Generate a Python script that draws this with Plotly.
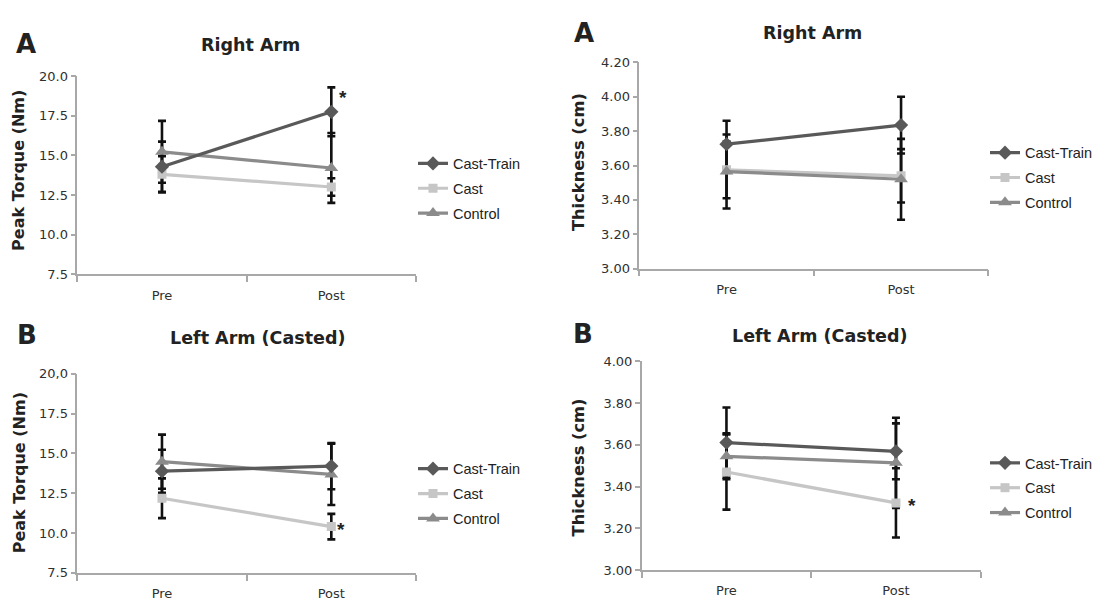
import plotly.graph_objects as go

# ---------------- data ----------------
phases = ["Pre", "Post"]
series_names = ["Cast-Train", "Cast", "Control"]

# Panel A-left: Right Arm peak torque (Nm)
torque_right_ct = [14.28, 17.74]
torque_right_ct_err = [1.58, 1.54]
torque_right_cast = [13.8, 13.0]
torque_right_cast_err = [1.15, 0.55]
torque_right_ctrl = [15.22, 14.2]
torque_right_ctrl_err = [1.95, 2.2]

# Panel B-left: Left Arm (Casted) peak torque (Nm)
torque_left_ct = [13.88, 14.2]
torque_left_ct_err = [1.35, 1.45]
torque_left_cast = [12.18, 10.4]
torque_left_cast_err = [1.25, 0.8]
torque_left_ctrl = [14.48, 13.68]
torque_left_ctrl_err = [1.7, 1.92]

# Panel A-right: Right Arm thickness (cm)
thick_right_ct = [3.724, 3.835]
thick_right_ct_err = [0.136, 0.165]
thick_right_cast = [3.575, 3.54]
thick_right_cast_err = [0.165, 0.155]
thick_right_ctrl = [3.565, 3.52]
thick_right_ctrl_err = [0.215, 0.235]

# Panel B-right: Left Arm (Casted) thickness (cm)
thick_left_ct = [3.611, 3.569]
thick_left_ct_err = [0.168, 0.134]
thick_left_cast = [3.47, 3.322]
thick_left_cast_err = [0.18, 0.166]
thick_left_ctrl = [3.545, 3.514]
thick_left_ctrl_err = [0.11, 0.216]

torque_ticks = [7.5, 10.0, 12.5, 15.0, 17.5, 20.0]
torque_ticktext_top = ["7.5", "10.0", "12.5", "15.0", "17.5", "20.0"]
torque_ticktext_bottom = ["7.5", "10.0", "12.5", "15.0", "17.5", "20,0"]
thick_ticks_right = [3.0, 3.2, 3.4, 3.6, 3.8, 4.0, 4.2]
thick_ticktext_right = ["3.00", "3.20", "3.40", "3.60", "3.80", "4.00", "4.20"]
thick_ticks_left = [3.0, 3.2, 3.4, 3.6, 3.8, 4.0]
thick_ticktext_left = ["3.00", "3.20", "3.40", "3.60", "3.80", "4.00"]

# ---------------- styling ----------------
W, H = 1098, 611
COL = {"Cast-Train": "#595959", "Cast": "#c6c6c6", "Control": "#8b8b8b"}
SYM = {"Cast-Train": "diamond", "Cast": "square", "Control": "triangle-up"}
MSZ = {"Cast-Train": 11, "Cast": 9, "Control": 12}
RANK = {"Cast-Train": 1, "Cast": 2, "Control": 3}
AXC = "#a8a8a8"
TXT = "#222222"
TICKFONT = dict(family="DejaVu Sans", size=13, color="#303030")


def px_x(p):
    return p / W


def px_y(p):
    return 1 - p / H


panels = [
    dict(ax="", xd=(77.3, 416), yd=(70.7, 274), yr=[7.5, 20.0], tv=torque_ticks, tt=torque_ticktext_top,
         data={"Cast-Train": (torque_right_ct, torque_right_ct_err),
               "Cast": (torque_right_cast, torque_right_cast_err),
               "Control": (torque_right_ctrl, torque_right_ctrl_err)},
         legend="legend", lx=413, ly=144),
    dict(ax="2", xd=(639.3, 988.3), yd=(56.7, 268.3), yr=[3.0, 4.2], tv=thick_ticks_right, tt=thick_ticktext_right,
         data={"Cast-Train": (thick_right_ct, thick_right_ct_err),
               "Cast": (thick_right_cast, thick_right_cast_err),
               "Control": (thick_right_ctrl, thick_right_ctrl_err)},
         legend="legend2", lx=985, ly=133),
    dict(ax="3", xd=(77.3, 416), yd=(376, 580), yr=[7.5, 20.0], tv=torque_ticks, tt=torque_ticktext_bottom,
         data={"Cast-Train": (torque_left_ct, torque_left_ct_err),
               "Cast": (torque_left_cast, torque_left_cast_err),
               "Control": (torque_left_ctrl, torque_left_ctrl_err)},
         legend="legend3", lx=413, ly=457),
    dict(ax="4", xd=(641.7, 980.7), yd=(363.3, 577.3), yr=[3.0, 4.0], tv=thick_ticks_left, tt=thick_ticktext_left,
         data={"Cast-Train": (thick_left_ct, thick_left_ct_err),
               "Cast": (thick_left_cast, thick_left_cast_err),
               "Control": (thick_left_ctrl, thick_left_ctrl_err)},
         legend="legend4", lx=985, ly=451),
]

fig = go.Figure()
layout = dict(width=W, height=H, margin=dict(l=0, r=0, t=0, b=0),
              paper_bgcolor="white", plot_bgcolor="white", showlegend=True)

draw_order = ["Cast", "Control", "Cast-Train"]

for i, p in enumerate(panels):
    xa = "x" + p["ax"]
    ya = "y" + p["ax"]
    # error bars first (beneath the lines)
    for name in draw_order:
        vals, errs = p["data"][name]
        fig.add_trace(go.Scatter(
            x=phases, y=vals, xaxis=xa, yaxis=ya, mode="markers",
            marker=dict(size=1, color="rgba(0,0,0,0)"),
            error_y=dict(type="data", array=errs, visible=True, color="#111111", thickness=2.6, width=4),
            showlegend=False, hoverinfo="skip"))
    for name in draw_order:
        vals, errs = p["data"][name]
        fig.add_trace(go.Scatter(
            x=phases, y=vals, xaxis=xa, yaxis=ya, mode="lines+markers", name=name,
            line=dict(color=COL[name], width=3.2),
            marker=dict(symbol=SYM[name], size=MSZ[name], color=COL[name]),
            legend=p["legend"], legendrank=RANK[name], legendgroup=p["legend"] + name))

    xkey = "xaxis" + p["ax"]
    ykey = "yaxis" + p["ax"]
    layout[xkey] = dict(
        domain=[px_x(p["xd"][0]), px_x(p["xd"][1])], anchor=ya, type="category",
        categoryorder="array", categoryarray=phases, range=[-0.5, 1.5],
        tickson="boundaries", ticks="outside", ticklen=6, tickcolor=AXC, tickwidth=1.5,
        showline=True, linecolor=AXC, linewidth=1.5, showgrid=False, zeroline=False,
        tickfont=TICKFONT, ticklabelstandoff=8, fixedrange=True)
    layout[ykey] = dict(
        domain=[px_y(p["yd"][1]), px_y(p["yd"][0])], anchor=xa, range=p["yr"],
        tickmode="array", tickvals=p["tv"], ticktext=p["tt"],
        ticks="outside", ticklen=5, tickcolor=AXC, tickwidth=1.5,
        showline=True, linecolor=AXC, linewidth=1.5, showgrid=False, zeroline=False,
        tickfont=TICKFONT, fixedrange=True)
    layout[p["legend"]] = dict(
        x=px_x(p["lx"]), xanchor="left", y=px_y(p["ly"]), yanchor="top",
        bgcolor="rgba(0,0,0,0)", borderwidth=0, itemwidth=30, tracegroupgap=3,
        font=dict(family="Liberation Sans", size=14.5, color=TXT), traceorder="grouped",
        itemclick=False, itemdoubleclick=False)

fig.update_layout(**layout)

# ---------------- text ----------------
annots = []


def paper_text(text, x, y, size, angle=0, family="DejaVu Sans"):
    annots.append(dict(text=text, x=px_x(x), y=px_y(y), xref="paper", yref="paper",
                       showarrow=False, xanchor="center", yanchor="middle", textangle=angle,
                       font=dict(family=family, size=size, color=TXT)))


# panel letters
paper_text("<b>A</b>", 26, 38, 26)
paper_text("<b>A</b>", 584, 27, 26)
paper_text("<b>B</b>", 27, 336, 26)
paper_text("<b>B</b>", 583, 335, 26)
# panel titles
paper_text("<b>Right Arm</b>", 250, 39, 17.5)
paper_text("<b>Right Arm</b>", 812, 27, 17.5)
paper_text("<b>Left Arm (Casted)</b>", 257, 339, 17.5)
paper_text("<b>Left Arm (Casted)</b>", 819, 337, 17.5)
# y axis titles
paper_text("<b>Peak Torque (Nm)</b>", 19, 168, 16, -90)
paper_text("<b>Thickness (cm)</b>", 578, 159, 16.3, -90)
paper_text("<b>Peak Torque (Nm)</b>", 19, 478, 16, -90)
paper_text("<b>Thickness (cm)</b>", 578, 472, 16.3, -90)

# significance asterisks next to data points
for xa, ya, yv, dx, dy in [("x", "y", torque_right_ct[1], 12, 14),
                           ("x3", "y3", torque_left_cast[1], 10, -3),
                           ("x4", "y4", thick_left_cast[1], 16, -3)]:
    annots.append(dict(text="<b>*</b>", x="Post", y=yv, xref=xa, yref=ya, showarrow=False,
                       xshift=dx, yshift=dy, font=dict(family="Liberation Sans", size=19, color=TXT)))

fig.update_layout(annotations=annots)
fig.write_html("out.html")
